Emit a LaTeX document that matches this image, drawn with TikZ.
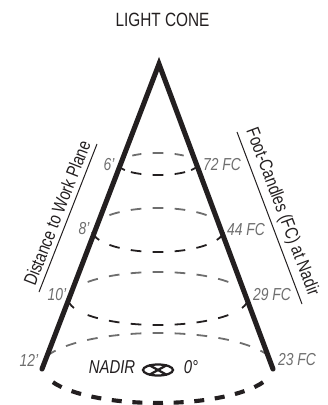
\documentclass[tikz,border=0pt]{standalone}
\usepackage{fontspec}
\setmainfont[FakeStretch=0.8]{Liberation Sans}
\definecolor{lightgray}{HTML}{6E6E6E}
\definecolor{ink}{HTML}{231F20}
\tikzset{
    ringdash/.style={line width=1.35pt, dash pattern=on 8pt off 8.5pt, dash phase=4pt},
    back/.style={ringdash, lightgray},
    front/.style={ringdash, ink},
    dist/.style={font=\itshape\fontsize{13}{13}\selectfont, lightgray},
    side/.style={font=\fontsize{13.8}{14}\selectfont, ink},
    basedash/.style={ink, line width=3.1pt, dash pattern=on 7.5pt off 8pt, dash phase=3.75pt}
}
\begin{document}
\begin{tikzpicture}[x=0.75pt, y=0.75pt]
    \useasboundingbox (0,0) rectangle (328,-405);

    % Title
    \node[font=\fontsize{14.4}{15}\selectfont, ink] (title) at (162.5,-20) {LIGHT CONE};

    % Rings: centre, radii, end of far dashes, end of near dashes, end of tick
    \foreach \cy/\rx/\ry/\far/\near/\tick in {164/40/11/50/225/214, 230/66/22/40/220/207, 298.5/90/26.5/34/216/201} {
        \draw[back] (158,-\cy+\ry) arc[start angle=90, end angle=\far, x radius=\rx, y radius=\ry];
        \draw[back] (158,-\cy+\ry) arc[start angle=90, end angle=180-\far, x radius=\rx, y radius=\ry];
        \draw[front] (158,-\cy-\ry) arc[start angle=270, end angle=\near, x radius=\rx, y radius=\ry];
        \draw[front] (158,-\cy-\ry) arc[start angle=270, end angle=540-\near, x radius=\rx, y radius=\ry];
        \draw[ink, line width=1.35pt] (158+\rx*cos \tick,-\cy+\ry*sin \tick) arc[start angle=\tick, delta angle=-22, x radius=\rx, y radius=\ry];
        \draw[ink, line width=1.35pt] (158-\rx*cos \tick,-\cy+\ry*sin \tick) arc[start angle=540-\tick, delta angle=22, x radius=\rx, y radius=\ry];
    }

    % Bottom ring
    \draw[back] (158,-333) arc[start angle=90, end angle=6, x radius=118, y radius=35];
    \draw[back] (158,-333) arc[start angle=90, end angle=174, x radius=118, y radius=35];
    \draw[basedash] (158,-403) arc[start angle=270, end angle=192, x radius=115, y radius=35];
    \draw[basedash] (158,-403) arc[start angle=270, end angle=348, x radius=115, y radius=35];

    % Cone
    \draw[line width=3.8pt, ink, line join=miter, line cap=round] (42,-369) -- (159,-64) -- (273,-369);

    % Rules beside the rotated labels
    \draw[line width=0.75pt, ink] (39,-292) -- (97,-144);
    \draw[line width=0.75pt, ink] (237,-132) -- (302,-304);
    \node[side, rotate=68.6] (workplane) at (57,-213) {Distance to Work Plane};
    \node[side, rotate=-69.3] (footcandles) at (282,-212) {Foot-Candles (FC) at Nadir};

    % Distances
    \node[dist] (six) at (109,-165) {6'};
    \node[dist] (eight) at (84,-229) {8'};
    \node[dist] (ten) at (57,-295) {10'};
    \node[dist] (twelve) at (29,-360) {12'};

    % Foot-candle values
    \node[dist] (fc72) at (222,-165) {72 FC};
    \node[dist] (fc44) at (246,-230) {44 FC};
    \node[dist] (fc29) at (272,-295) {29 FC};
    \node[dist] (fc23) at (297,-360) {23 FC};

    % Nadir mark
    \node[dist, ink, font=\itshape\fontsize{14}{14}\selectfont] (nadir) at (112,-367) {NADIR};
    \node[dist, ink, font=\itshape\fontsize{14}{14}\selectfont] (zero) at (191,-367) {0°};
    \draw[line width=1.7pt, ink] (158,-370) ellipse (15 and 5.5);
    \draw[line width=1.7pt, ink] (149,-365) -- (167,-375);
    \draw[line width=1.7pt, ink] (149,-375) -- (167,-365);
\end{tikzpicture}
\end{document}
